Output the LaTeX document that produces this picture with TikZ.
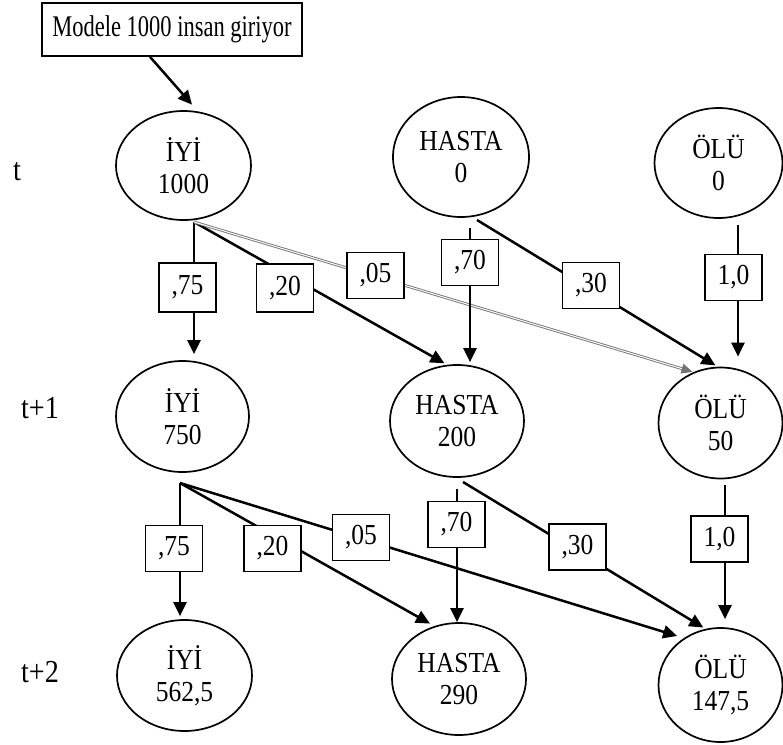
\documentclass[tikz,border=0pt]{standalone}
\usepackage{fontspec}
\setmainfont[FakeStretch=0.88]{Liberation Serif}
\newfontfamily\tallfont[FakeStretch=0.75]{Liberation Serif}
\usetikzlibrary{positioning, arrows.meta, shapes.geometric}

\begin{document}
\begin{tikzpicture}[
  x=1pt, y=-1pt,
  every node/.style={font=\fontsize{29}{32}\selectfont},
  stt/.style={draw, ellipse, line width=1.7pt, inner sep=0pt, align=center},
  prob/.style={draw, fill=white, line width=1.7pt, inner sep=0pt,
    minimum width=57pt, minimum height=46pt},
  entry/.style={draw, line width=1.7pt, minimum width=260pt, minimum height=53pt,
    font=\tallfont\fontsize{30}{30}\selectfont},
  arr/.style={-{Triangle[length=14pt, width=13pt]}, line width=2.5pt},
  dbl/.style={-{Triangle[length=11pt, width=10pt]}, draw=black!55,
    double=white, double distance=1pt, line width=0.9pt},
  lbl/.style={inner sep=0pt, font=\fontsize{32}{32}\selectfont}
]
\useasboundingbox (0,0) rectangle (783,744);

% states
\node[stt, minimum width=135pt, minimum height=109pt] (iyiA) at (183.5,165.5) {İYİ\\1000};
\node[stt, minimum width=136pt, minimum height=120pt] (hastaA) at (461,157) {HASTA\\0};
\node[stt, minimum width=128pt, minimum height=110pt] (oluA) at (718.5,163) {ÖLÜ\\0};
\node[stt, minimum width=133pt, minimum height=111pt] (iyiB) at (182.5,416.5) {İYİ\\750};
\node[stt, minimum width=134pt, minimum height=112pt] (hastaB) at (457,421) {HASTA\\200};
\node[stt, minimum width=124pt, minimum height=111pt] (oluB) at (720.5,423) {ÖLÜ\\50};
\node[stt, minimum width=135pt, minimum height=111pt] (iyiC) at (184.5,675.5) {İYİ\\562,5};
\node[stt, minimum width=134pt, minimum height=112pt] (hastaC) at (459,679) {HASTA\\290};
\node[stt, minimum width=124pt, minimum height=114pt] (oluC) at (720.5,685) {ÖLÜ\\147,5};

\node[entry] (entry) at (172,29.5) {Modele 1000 insan giriyor};

\node[lbl] (tA) at (17,172) {t};
\node[lbl] (tB) at (40,408) {t+1};
\node[lbl] (tC) at (40,672) {t+2};

% start points under the states
\coordinate (sA) at (194,222);
\coordinate (hA1) at (470,228);
\coordinate (hA2) at (477,220);
\coordinate (oA) at (738,225);
\coordinate (sB) at (180,483);
\coordinate (hB1) at (457,489);
\coordinate (hB2) at (463,482);
\coordinate (oB) at (725,485);

\draw[arr, shorten >=9pt] ([xshift=-22pt]entry.south) -- (iyiA.75);

% t -> t+1
\draw[arr, shorten >=6pt] (sA) -- (sA |- iyiB.north);
\draw[arr, shorten >=3pt] (sA) -- (hastaB.100);
\draw[dbl, shorten >=1pt] (sA) -- (oluB.118);
\draw[arr, shorten >=2pt] (hA1) -- (hA1 |- hastaB.north);
\draw[arr, shorten >=2.5pt] (hA2) -- (oluB.93);
\draw[arr, shorten >=10pt] (oA) -- (oA |- oluB.north);

% t+1 -> t+2
\draw[arr, shorten >=3pt] (sB) -- (sB |- iyiC.north);
\draw[arr, shorten >=5pt] (sB) -- (hastaC.115);
\draw[arr, shorten >=7pt] (sB) -- (oluC.128);
\draw[arr] (hB1) -- (hB1 |- hastaC.north);
\draw[arr, shorten >=2.5pt] (hB2) -- (oluC.105);
\draw[arr, shorten >=8pt] (oB) -- (oB |- oluC.north);

% probabilities
\node[prob, minimum height=49pt] (pIIa) at (187.5,287.5) {,75};
\node[prob, minimum height=48pt] (pIHa) at (285,288) {,20};
\node[prob] (pIOa) at (375.5,275.5) {,05};
\node[prob] (pHHa) at (470,262.5) {,70};
\node[prob] (pHOa) at (591,285.5) {,30};
\node[prob] (pOOa) at (733.5,277.5) {1,0};

\node[prob] (pIIb) at (174,548.5) {,75};
\node[prob] (pIHb) at (272.5,548.5) {,20};
\node[prob] (pIOb) at (361,537.5) {,05};
\node[prob] (pHHb) at (456.5,524.5) {,70};
\node[prob] (pHOb) at (577.5,547) {,30};
\node[prob] (pOOb) at (719.5,539) {1,0};
\end{tikzpicture}
\end{document}
